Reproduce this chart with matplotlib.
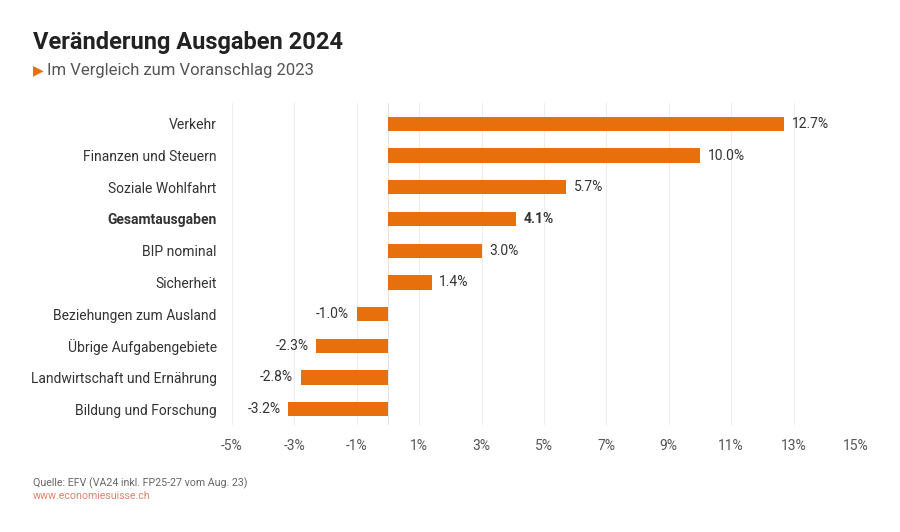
import matplotlib.pyplot as plt
from matplotlib.ticker import FixedLocator

plt.rcParams['font.family'] = ['Roboto', 'DejaVu Sans']

# data
categories = ['Verkehr', 'Finanzen und Steuern', 'Soziale Wohlfahrt', 'Gesamtausgaben',
              'BIP nominal', 'Sicherheit', 'Beziehungen zum Ausland',
              'Übrige Aufgabengebiete', 'Landwirtschaft und Ernährung', 'Bildung und Forschung']
values = [12.7, 10.0, 5.7, 4.1, 3.0, 1.4, -1.0, -2.3, -2.8, -3.2]
bold_cat = 'Gesamtausgaben'
xticks = [-5, -3, -1, 1, 3, 5, 7, 9, 11, 13, 15]
xtick_labels = ['%d%%' % t for t in xticks]

orange = '#E8700C'

fig = plt.figure(figsize=(9, 5.32), dpi=100)
ax = fig.add_axes([232 / 900, 1 - 425 / 532, 624 / 900, 322 / 532])

ypos = list(range(len(categories)))
ax.barh(ypos, values, height=0.45, color=orange, zorder=3)

ax.set_xlim(-5, 15)
ax.set_ylim(9.5, -0.66)
ax.xaxis.set_major_locator(FixedLocator(xticks))
ax.set_xticklabels(xtick_labels)
ax.set_yticks(ypos)
ax.set_yticklabels(categories)
for lbl in ax.get_yticklabels():
    if lbl.get_text() == bold_cat:
        lbl.set_fontweight('bold')
        lbl.set_color('#222222')

ax.tick_params(axis='x', length=0, pad=10, labelsize=10, labelcolor='#555555')
ax.tick_params(axis='y', length=0, pad=11, labelsize=10, labelcolor='#333333')
ax.grid(axis='x', color='#EDEDED', linewidth=0.8, zorder=0)
ax.axvline(0, color='#E4E4E4', linewidth=0.8, zorder=1)
for s in ax.spines.values():
    s.set_visible(False)

for y, v, c in zip(ypos, values, categories):
    txt = '%.1f%%' % v
    weight = 'bold' if c == bold_cat else 'normal'
    if v >= 0:
        ax.annotate(txt, (v, y), xytext=(5.5, 0), textcoords='offset points',
                    ha='left', va='center', fontsize=10, color='#333333', fontweight=weight)
    else:
        ax.annotate(txt, (v, y), xytext=(-5.5, 0), textcoords='offset points',
                    ha='right', va='center', fontsize=10, color='#333333', fontweight=weight)

# titles
fig.text(33 / 900, 1 - 42 / 532, 'Veränderung Ausgaben 2024', fontsize=17,
         fontweight='bold', color='#222222', va='center', ha='left')
fig.text(33 / 900, 1 - 70 / 532, '\u25B6', fontsize=10, color=orange,
         va='center', ha='left', family=['DejaVu Sans'])
fig.text(47 / 900, 1 - 70 / 532, 'Im Vergleich zum Voranschlag 2023', fontsize=12,
         color='#555555', va='center', ha='left')

# footer
fig.text(33 / 900, 1 - 483 / 532, 'Quelle: EFV (VA24 inkl. FP25-27 vom Aug. 23)',
         fontsize=7.7, color='#666666', va='center', ha='left')
fig.text(33 / 900, 1 - 496 / 532, 'www.economiesuisse.ch', fontsize=7.7,
         color='#E0836B', va='center', ha='left')

fig.savefig('out.png', dpi=100)
